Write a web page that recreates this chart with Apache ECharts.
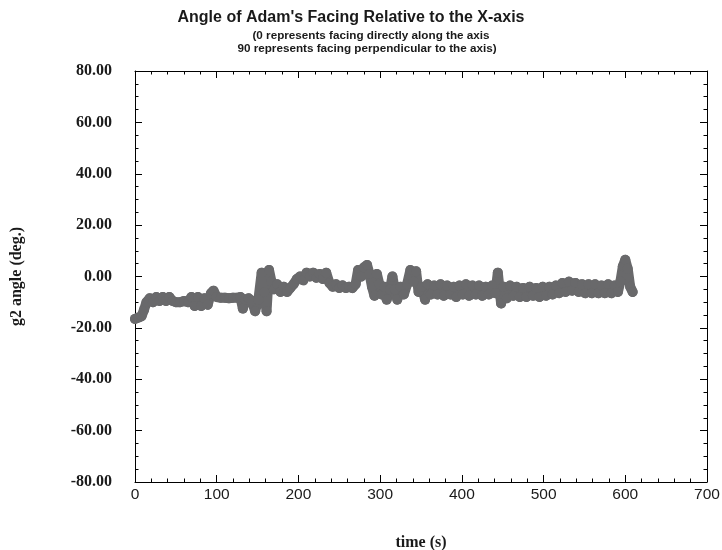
<!DOCTYPE html>
<html>
<head>
<meta charset="utf-8">
<script src="https://cdn.jsdelivr.net/npm/echarts@6/dist/echarts.min.js"></script>
<style>
  html, body { margin: 0; padding: 0; background: #fff; }
  #chart { width: 722px; height: 550px; }
</style>
</head>
<body>
<div id="chart"></div>
<script>
// Sample times (s) of the g2 facing angle
var times = [
  0, 4, 8, 11, 14, 18, 22, 26, 30, 34, 38, 42, 46, 50, 55, 60, 65, 69, 73, 77,
  81, 85, 89, 93, 96, 100, 105, 110, 115, 120, 125, 129, 132, 135, 139, 143, 147, 151, 155, 158,
  161, 164, 167, 170, 174, 178, 182, 186, 190, 194, 198, 202, 206, 210, 214, 218, 222, 226, 230, 234,
  238, 242, 246, 250, 254, 258, 262, 266, 270, 273, 277, 280, 284, 287, 290, 293, 296, 299, 302, 305,
  308, 312, 315, 318, 321, 325, 329, 333, 337, 341, 344, 347, 351, 355, 358, 362, 366, 370, 374, 378,
  382, 386, 390, 393, 397, 401, 405, 409, 413, 417, 421, 425, 429, 433, 437, 441, 444, 448, 451, 455,
  459, 463, 467, 471, 475, 479, 483, 487, 491, 495, 499, 503, 507, 511, 515, 519, 523, 527, 531, 535,
  539, 543, 547, 551, 555, 559, 563, 567, 571, 575, 579, 583, 587, 591, 594, 597, 600, 603, 606, 609
];

// Angle of the facing relative to the X-axis (deg.)
var angles = [
  -16.5, -16, -15.5, -13, -10, -8.5, -10, -8, -9.5, -8, -9.5, -8, -9.5, -10, -10, -9.5, -10, -8, -11.5, -8,
  -11.5, -8.5, -11, -6.5, -5.5, -8, -8.3, -8.3, -8.5, -8.3, -8.3, -8, -12.5, -9, -8.5, -9.5, -13.5, -9, 1.5, -6,
  -13.5, 2.5, -2, -5, -3, -6, -4, -6, -4.5, -3, -1, 0, -1.5, 1.5, 0, 1.5, -0.5, 1, -1, 1.5,
  -2.5, -4, -3, -4.5, -3.5, -4.5, -4, -4.5, -3, 2.5, 0, 3.5, 4.5, 1, -4, -7.5, 1, -3, -7, -4,
  -9, -5, 0, -5, -9, -4, -7, -3, 2.5, -2, 2, -6, -4, -9, -3, -7, -3.5, -7, -3, -7.5,
  -3.5, -7, -4, -8, -3.5, -7, -3, -7.5, -3.5, -7, -3.5, -7.5, -4, -7, -3.5, -6.5, 1.5, -10.5, -4, -8.5,
  -3.5, -7.5, -4, -8, -4.5, -8, -4, -7.5, -4.5, -8, -4, -7.5, -4, -7, -3.5, -6.5, -2.5, -6, -2, -5.5,
  -2.5, -6, -3, -6.5, -3, -6.5, -3, -6.5, -3.5, -6.5, -3, -6.5, -3.5, -6, -2, 4, 6.5, 3, -4, -6
];

var xTicks = [0, 100, 200, 300, 400, 500, 600, 700];
var yTicks = [-80, -60, -40, -20, 0, 20, 40, 60, 80];

var titleText = "Angle of Adam's Facing Relative to the X-axis";
var subLine1 = "(0 represents facing directly along the axis";
var subLine2 = "90 represents facing perpendicular to the axis)";

var points = times.map(function (t, i) { return [t, angles[i]]; });

var ink = '#1a1a1a';
var serif = '"Liberation Serif", "DejaVu Serif", serif';
var sans = '"Liberation Sans", Arial, sans-serif';

function frameAxis(extra) {
  var base = {
    type: 'value',
    axisLine: { show: true, onZero: false, lineStyle: { color: '#000', width: 1 } },
    axisTick: { show: true, inside: true, length: 7, lineStyle: { color: '#000', width: 1 } },
    minorTick: { show: true, length: 3.5, lineStyle: { color: '#000', width: 1 } },
    splitLine: { show: false },
    minorSplitLine: { show: false }
  };
  return Object.assign(base, extra);
}

var chart = echarts.init(document.getElementById('chart'), null, { renderer: 'canvas' });

chart.setOption({
  animation: false,
  backgroundColor: '#fff',
  grid: { left: 135, right: 15, top: 71, bottom: 68, containLabel: false, outerBoundsMode: 'none' },
  graphic: [
    { type: 'text', x: 351, y: 10, style: { text: titleText, font: 'bold 16px ' + sans, fill: ink, textAlign: 'center' } },
    { type: 'text', x: 371, y: 30, style: { text: subLine1, font: 'bold 11.7px ' + sans, fill: ink, textAlign: 'center' } },
    { type: 'text', x: 367, y: 43, style: { text: subLine2, font: 'bold 11.7px ' + sans, fill: ink, textAlign: 'center' } }
  ],
  xAxis: [
    frameAxis({
      position: 'bottom', min: xTicks[0], max: xTicks[xTicks.length - 1], interval: 100,
      minorTick: { show: true, splitNumber: 5, length: 3.5, lineStyle: { color: '#000', width: 1 } },
      axisLabel: { show: true, margin: 5, fontFamily: sans, fontSize: 15.5, color: ink },
      name: 'time (s)', nameLocation: 'middle', nameGap: 53,
      nameTextStyle: { fontFamily: serif, fontWeight: 'bold', fontSize: 16, color: ink }
    }),
    frameAxis({
      position: 'top', min: xTicks[0], max: xTicks[xTicks.length - 1], interval: 100,
      minorTick: { show: true, splitNumber: 5, length: 3.5, lineStyle: { color: '#000', width: 1 } },
      axisLabel: { show: false }
    })
  ],
  yAxis: [
    frameAxis({
      position: 'left', min: yTicks[0], max: yTicks[yTicks.length - 1], interval: 20,
      minorTick: { show: true, splitNumber: 4, length: 3.5, lineStyle: { color: '#000', width: 1 } },
      axisLabel: {
        show: true, margin: 23, fontFamily: serif, fontWeight: 'bold', fontSize: 16, color: ink,
        formatter: function (v) { return v.toFixed(2); }
      },
      name: 'g2 angle (deg.)', nameLocation: 'middle', nameGap: 110, nameRotate: 90,
      nameTextStyle: { fontFamily: serif, fontWeight: 'bold', fontSize: 16, color: ink }
    }),
    frameAxis({
      position: 'right', min: yTicks[0], max: yTicks[yTicks.length - 1], interval: 20,
      minorTick: { show: true, splitNumber: 4, length: 3.5, lineStyle: { color: '#000', width: 1 } },
      axisLabel: { show: false }
    })
  ],
  series: [{
    type: 'line',
    xAxisIndex: 0,
    yAxisIndex: 0,
    data: points,
    symbol: 'circle',
    symbolSize: 10,
    showSymbol: true,
    showAllSymbol: true,
    clip: false,
    itemStyle: { color: '#69696b' },
    lineStyle: { color: '#69696b', width: 10, cap: 'round', join: 'round' },
    emphasis: { disabled: true }
  }]
});
</script>
</body>
</html>
